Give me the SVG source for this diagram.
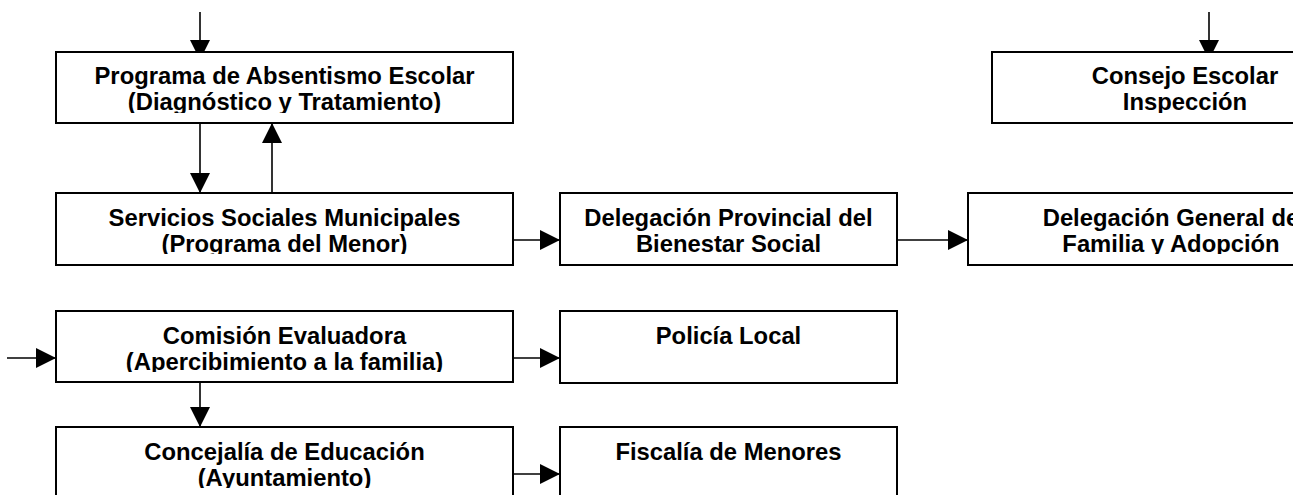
<svg xmlns="http://www.w3.org/2000/svg" width="1293" height="495" viewBox="0 0 1293 495">
<style>
.box{fill:#fff;stroke:#000;stroke-width:2}
.t{font-family:"Liberation Sans",Arial,sans-serif;font-weight:bold;font-size:23.8px;fill:#000;text-anchor:middle}
.c{stroke:#000;stroke-width:1.6;fill:none;marker-end:url(#ah)}
</style>
<defs>
<marker id="ah" markerUnits="userSpaceOnUse" markerWidth="20" markerHeight="20" refX="20" refY="10" orient="auto" viewBox="0 0 20 20">
<path d="M0,0 L20,10 L0,20 z" fill="#000"/>
</marker>
<clipPath id="tc">
<rect x="0" y="52" width="1293" height="61"/>
<rect x="0" y="193" width="1293" height="61"/>
<rect x="0" y="311" width="1293" height="61"/>
<rect x="0" y="427" width="1293" height="61"/>
</clipPath>
</defs>
<rect width="1293" height="495" fill="#fff"/>
<g id="connectors">
<line class="c" x1="200" y1="12" x2="200" y2="60"/>
<line class="c" x1="1209" y1="12" x2="1209" y2="60"/>
<line class="c" x1="200" y1="123" x2="200" y2="193"/>
<line class="c" x1="272" y1="193" x2="272" y2="123"/>
<line class="c" x1="513" y1="240" x2="560" y2="240"/>
<line class="c" x1="897" y1="240" x2="968" y2="240"/>
<line class="c" x1="7" y1="358" x2="56" y2="358"/>
<line class="c" x1="513" y1="358" x2="560" y2="358"/>
<line class="c" x1="200" y1="382" x2="200" y2="427"/>
<line class="c" x1="513" y1="474" x2="560" y2="474"/>
</g>
<g id="absentismo">
<rect class="box" x="56" y="52" width="457" height="71"/>
<g clip-path="url(#tc)"><text class="t" x="284.5" y="84">Programa de Absentismo Escolar</text>
<text class="t" x="284.5" y="110">(Diagnóstico y Tratamiento)</text></g>
</g>
<g id="consejo">
<rect class="box" x="992" y="52" width="400" height="71"/>
<g clip-path="url(#tc)"><text class="t" x="1185" y="84">Consejo Escolar</text>
<text class="t" x="1185" y="110">Inspección</text></g>
</g>
<g id="servicios">
<rect class="box" x="56" y="193" width="457" height="72"/>
<g clip-path="url(#tc)"><text class="t" x="284.5" y="225.5">Servicios Sociales Municipales</text>
<text class="t" x="284.5" y="251.5">(Programa del Menor)</text></g>
</g>
<g id="delegacion-provincial">
<rect class="box" x="560" y="193" width="337" height="72"/>
<g clip-path="url(#tc)"><text class="t" x="728.5" y="225.5">Delegación Provincial del</text>
<text class="t" x="728.5" y="251.5">Bienestar Social</text></g>
</g>
<g id="delegacion-general">
<rect class="box" x="968" y="193" width="400" height="72"/>
<g clip-path="url(#tc)"><text class="t" x="1171" y="225.5">Delegación General de</text>
<text class="t" x="1171" y="251.5">Familia y Adopción</text></g>
</g>
<g id="comision">
<rect class="box" x="56" y="311" width="457" height="71"/>
<g clip-path="url(#tc)"><text class="t" x="284.5" y="343.5">Comisión Evaluadora</text>
<text class="t" x="284.5" y="369.5">(Apercibimiento a la familia)</text></g>
</g>
<g id="policia">
<rect class="box" x="560" y="311" width="337" height="72"/>
<g clip-path="url(#tc)"><text class="t" x="728.5" y="343.5">Policía Local</text></g>
</g>
<g id="concejalia">
<rect class="box" x="56" y="427" width="457" height="80"/>
<g clip-path="url(#tc)"><text class="t" x="284.5" y="459.5">Concejalía de Educación</text>
<text class="t" x="284.5" y="485.5">(Ayuntamiento)</text></g>
</g>
<g id="fiscalia">
<rect class="box" x="560" y="427" width="337" height="80"/>
<g clip-path="url(#tc)"><text class="t" x="728.5" y="459.5">Fiscalía de Menores</text></g>
</g>
</svg>
